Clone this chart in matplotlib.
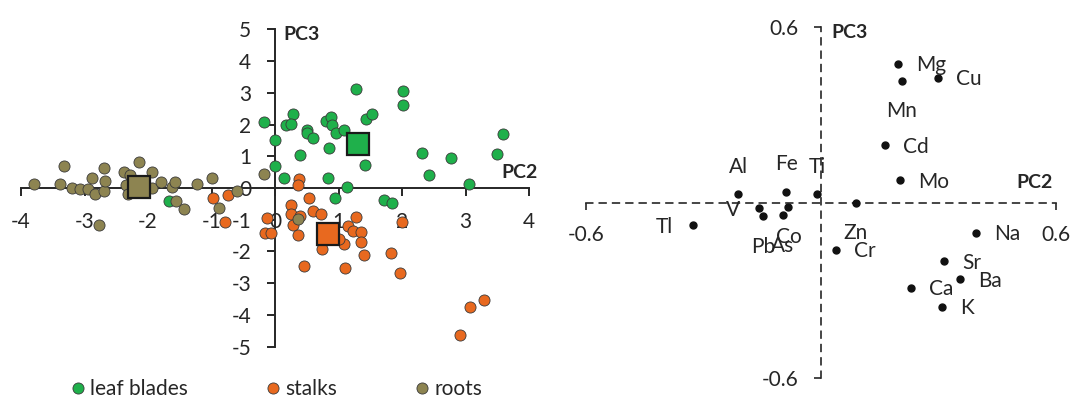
"""PCA biplot pair: sample scores on PC2/PC3 (left) and element loadings (right)."""

import matplotlib

matplotlib.use("Agg")
import matplotlib.pyplot as plt
from matplotlib.lines import Line2D

plt.rcParams["font.family"] = ["Lato", "DejaVu Sans"]
plt.rcParams["axes.unicode_minus"] = False

# sample scores (PC2, PC3) per plant part
LEAF_PC2 = [-0.18, 0.00, 0.00, 1.27, 2.02, 2.01, 0.29, 0.17, 0.25, 0.81, 0.88, 0.89,
            0.51, 0.50, 0.60, 0.96, 1.09, 1.44, 1.53, 0.85, 0.40, 1.41, 2.31, 2.77,
            3.49, 3.59, 2.42, 3.05, 0.14, 0.84, 1.13, 0.95, 1.72, 1.85, -1.67]
LEAF_PC3 = [2.07, 1.51, 0.69, 3.11, 3.06, 2.61, 2.32, 1.99, 2.02, 2.10, 2.25, 1.98,
            1.84, 1.72, 1.59, 1.72, 1.82, 2.18, 2.34, 1.27, 1.04, 0.73, 1.11, 0.93,
            1.07, 1.70, 0.41, 0.12, 0.31, 0.33, 0.04, -0.33, -0.39, -0.48, -0.41]

STALK_PC2 = [0.38, 0.37, 0.54, 0.25, 0.60, 0.73, 0.25, 0.40, 1.28, -0.13, 0.28, 0.36,
             -0.16, -0.06, 1.15, 1.23, 1.35, 1.36, 1.09, 1.01, 0.74, 1.40, 1.82, 2.00,
             0.46, 1.10, 1.97, 3.07, 3.29, 2.92, -0.97, -0.74, -0.78]
STALK_PC3 = [0.28, 0.09, -0.33, -0.54, -0.73, -0.81, -0.83, -0.88, -0.90, -0.93, -1.17, -1.48,
             -1.41, -1.43, -1.21, -1.36, -1.40, -1.70, -1.75, -1.61, -1.92, -2.10, -2.05, -1.06,
             -2.45, -2.53, -2.67, -3.75, -3.54, -4.64, -0.33, -0.22, -1.06]

ROOT_PC2 = [-3.79, -3.39, -3.32, -3.19, -3.07, -2.94, -2.88, -2.83, -2.70, -2.69, -2.67,
            -2.38, -2.28, -2.14, -1.94, -1.93, -2.34, -2.31, -1.80, -1.62, -1.58, -1.23,
            -0.99, -0.60, -0.17, -2.77, -1.56, -1.43, -0.88, 0.37]
ROOT_PC3 = [0.12, 0.12, 0.70, 0.01, -0.02, -0.02, 0.33, -0.20, -0.09, 0.62, 0.23,
            0.50, 0.41, 0.82, 0.50, -0.01, 0.09, -0.19, 0.20, 0.04, 0.19, 0.12,
            0.33, -0.09, 0.45, -1.15, -0.40, -0.67, -0.64, -0.99]

# group means
CENTROID_PC2 = [1.30, 0.83, -2.14]
CENTROID_PC3 = [1.38, -1.45, 0.04]

GROUPS = ["leaf blades", "stalks", "roots"]

# element loadings
ELEMENTS = ["Mg", "Mn", "Cu", "Cd", "Mo", "Al", "Fe", "Ti", "V", "Pb", "Co", "As",
            "Tl", "Zn", "Cr", "Na", "Sr", "Ba", "Ca", "K"]
LOAD_PC2 = [0.196, 0.206, 0.298, 0.163, 0.202, -0.211, -0.089, -0.009, -0.158, -0.147,
            -0.083, -0.098, -0.327, 0.089, 0.038, 0.395, 0.314, 0.355, 0.229, 0.308]
LOAD_PC3 = [0.474, 0.417, 0.427, 0.196, 0.076, 0.028, 0.036, 0.028, -0.019, -0.046,
            -0.014, -0.042, -0.077, 0.000, -0.162, -0.102, -0.201, -0.262, -0.290, -0.355]

COLORS = ["#1fb04b", "#e8691f", "#8d8451"]
LABEL_SIDE = {"Mg": "right", "Mn": "below", "Cu": "right", "Cd": "right", "Mo": "right",
              "Al": "above", "Fe": "above", "Ti": "above", "V": "left", "Pb": "below",
              "Co": "below", "As": "below", "Tl": "left", "Zn": "below", "Cr": "right",
              "Na": "right", "Sr": "right", "Ba": "right", "Ca": "right", "K": "right"}

FS = 15
FS_AXIS = 14
TXT = "#262626"
W, H = 1072, 399


def main() -> None:
    fig = plt.figure(figsize=(W / 100, H / 100), dpi=100)

    # --- scores ---
    ax = fig.add_axes([21 / W, (H - 346.7) / H, 508 / W, 317.4 / H])
    ax.set_xlim(-4, 4)
    ax.set_ylim(-5, 5)
    for side in ("top", "right"):
        ax.spines[side].set_visible(False)
    for side in ("left", "bottom"):
        ax.spines[side].set_position(("data", 0))
        ax.spines[side].set_linewidth(1.4)
        ax.spines[side].set_color(TXT)
    ax.set_xticks(range(-4, 5))
    ax.set_yticks(range(-5, 6))
    ax.tick_params(direction="out", length=6, width=1.4, pad=11, labelsize=FS,
                   colors=TXT)
    ax.patch.set_alpha(0)

    pts = [(LEAF_PC2, LEAF_PC3), (STALK_PC2, STALK_PC3), (ROOT_PC2, ROOT_PC3)]
    handles = []
    for (xs, ys), c, name in zip(pts, COLORS, GROUPS):
        ax.scatter(xs, ys, s=64, c=c, edgecolors="#3a3a3a", linewidths=0.6,
                   zorder=3, clip_on=False)
        handles.append(Line2D([], [], ls="none", marker="o", markersize=8,
                              markerfacecolor=c, markeredgecolor="#3a3a3a",
                              markeredgewidth=0.6, label=name))
    for x, y, c in zip(CENTROID_PC2, CENTROID_PC3, COLORS):
        ax.plot(x, y, marker="s", markersize=16, markerfacecolor=c,
                markeredgecolor="#1a1a1a", markeredgewidth=1.6, zorder=4)

    ax.text(0.13, 4.83, "PC3", fontsize=FS_AXIS, weight="bold", color=TXT,
            ha="left", va="center")
    ax.text(3.57, 0.50, "PC2", fontsize=FS_AXIS, weight="bold", color=TXT,
            ha="left", va="center")

    fig.legend(handles=handles, loc="center left", bbox_to_anchor=(69.7 / W, 10 / H),
               ncol=3, frameon=False, fontsize=FS, borderpad=0, borderaxespad=0,
               handlelength=0.8, handletextpad=0.17, columnspacing=3.7,
               labelcolor=TXT)

    # --- loadings ---
    bx = fig.add_axes([586 / W, (H - 378.3) / H, 470 / W, 351.3 / H])
    bx.set_xlim(-0.6, 0.6)
    bx.set_ylim(-0.6, 0.6)
    bx.patch.set_alpha(0)
    for side in ("top", "right"):
        bx.spines[side].set_visible(False)
    for side in ("left", "bottom"):
        bx.spines[side].set_position(("data", 0))
        bx.spines[side].set_linestyle((0, (4, 4)))
        bx.spines[side].set_linewidth(1.2)
        bx.spines[side].set_color(TXT)
    bx.set_xticks([-0.6, 0.6])
    bx.set_yticks([-0.6, 0.6])
    bx.set_xticklabels(["-0.6", "0.6"])
    bx.set_yticklabels(["-0.6", "0.6"])
    bx.tick_params(direction="out", length=5, width=1.2, pad=11, labelsize=FS,
                   colors=TXT)

    bx.plot(LOAD_PC2, LOAD_PC3, ls="none", marker="o", markersize=5, color="#111111",
            zorder=3)
    offsets = {"right": ((13, -1), "left", "center"),
               "left": ((-14, -1), "right", "center"),
               "above": ((0, 20), "center", "center"),
               "below": ((0, -22), "center", "center")}
    for name, x, y in zip(ELEMENTS, LOAD_PC2, LOAD_PC3):
        off, ha, va = offsets[LABEL_SIDE[name]]
        bx.annotate(name, (x, y), xytext=off, textcoords="offset points",
                    fontsize=FS, color=TXT, ha=ha, va=va)

    bx.text(0.027, 0.58, "PC3", fontsize=FS_AXIS, weight="bold", color=TXT,
            ha="left", va="center")
    bx.text(0.50, 0.069, "PC2", fontsize=FS_AXIS, weight="bold", color=TXT,
            ha="left", va="center")

    fig.savefig("out.png", dpi=100)


if __name__ == "__main__":
    main()
